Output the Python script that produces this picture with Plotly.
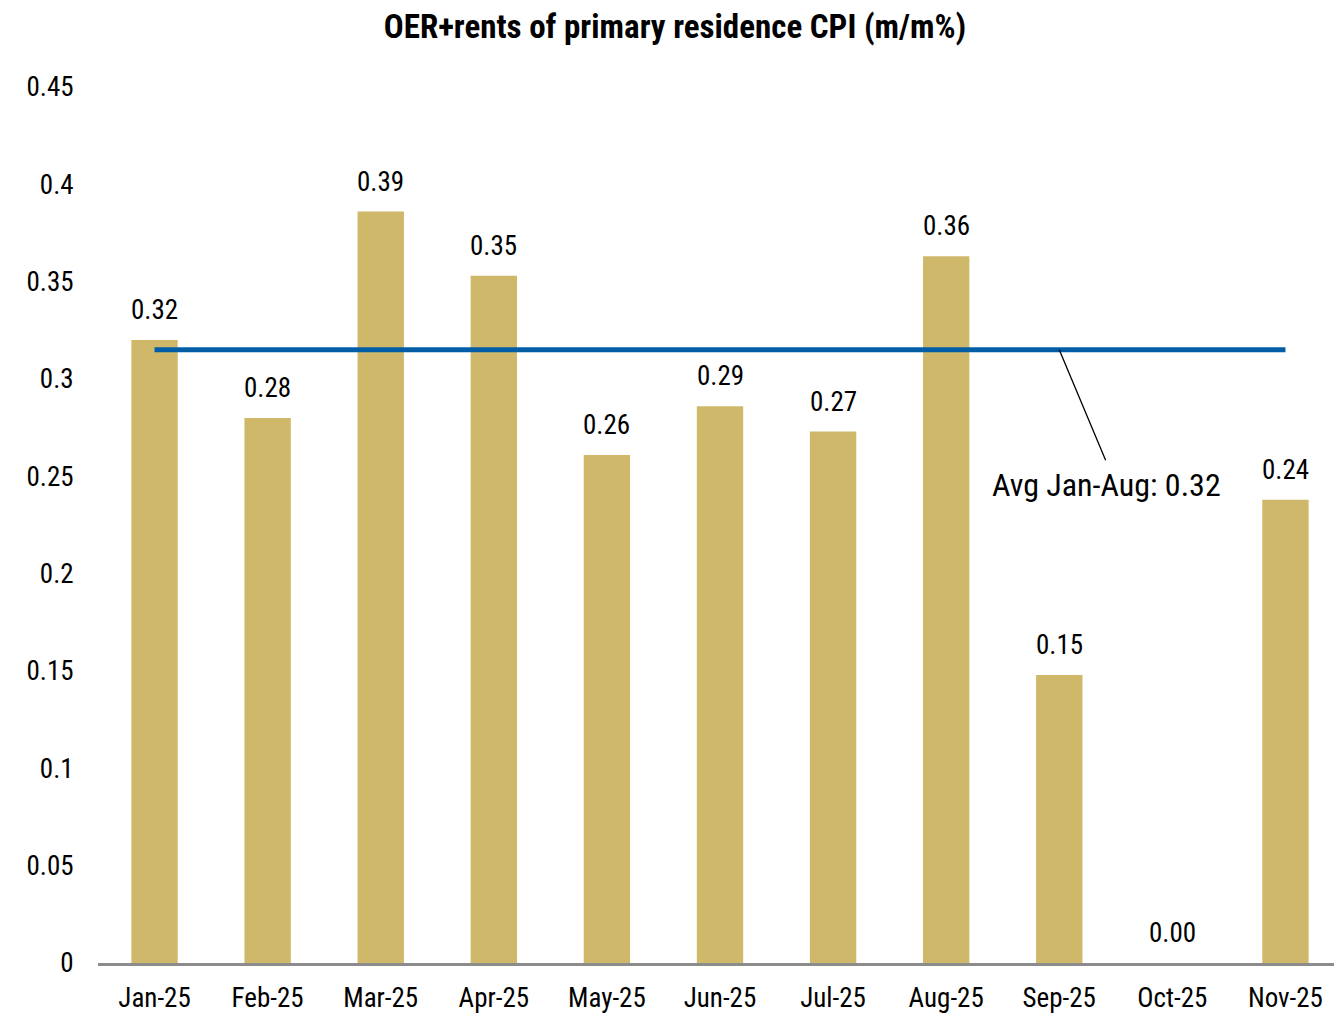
import plotly.graph_objects as go

months = ["Jan-25", "Feb-25", "Mar-25", "Apr-25", "May-25", "Jun-25",
          "Jul-25", "Aug-25", "Sep-25", "Oct-25", "Nov-25"]
values = [0.320, 0.280, 0.386, 0.353, 0.261, 0.286, 0.273, 0.363, 0.148, 0.0, 0.238]
avg_value = 0.315
avg_label = "Avg Jan-Aug: 0.32"
title_text = "OER+rents of primary residence CPI (m/m%)"
y_ticks = [0, 0.05, 0.1, 0.15, 0.2, 0.25, 0.3, 0.35, 0.4, 0.45]
y_tick_text = ["0", "0.05", "0.1", "0.15", "0.2", "0.25", "0.3", "0.35", "0.4", "0.45"]

FONT = "Roboto Condensed, Roboto, sans-serif"
BAR_COLOR = "#CFB86A"
LINE_COLOR = "#005DA6"

fig = go.Figure()
fig.add_trace(go.Bar(x=months, y=values, marker=dict(color=BAR_COLOR, line=dict(width=0)),
                     hoverinfo="x+y"))
fig.add_trace(go.Scatter(x=[months[0], months[-1]], y=[avg_value, avg_value], mode="lines",
                         line=dict(color=LINE_COLOR, width=5), hoverinfo="skip"))

annotations = []
for m, v in zip(months, values):
    annotations.append(dict(x=m, y=v, text=f"{v:.2f}", showarrow=False, yanchor="middle",
                            yshift=30, font=dict(family=FONT, size=27, color="black")))
# leader line for average
annotations.append(dict(x="Sep-25", y=avg_value, text="", showarrow=True, arrowhead=0,
                        arrowwidth=1.3, arrowcolor="black", ax=47, ay=112, standoff=0))
annotations.append(dict(x="Sep-25", y=avg_value, text=avg_label, showarrow=False,
                        xshift=47, yshift=-135, font=dict(family=FONT, size=32, color="black")))

fig.update_layout(
    width=1334, height=1024,
    margin=dict(l=90, r=0, t=79, b=69),
    paper_bgcolor="white", plot_bgcolor="white",
    showlegend=False,
    bargap=0.59,
    title=dict(text=f"<b>{title_text}</b>", x=0.5, xanchor="center", y=0.982, yanchor="middle",
               font=dict(family=FONT, size=33, color="black")),
    font=dict(family=FONT, size=27, color="black"),
    annotations=annotations,
)
fig.update_xaxes(showline=True, linecolor="#8C8C8C", linewidth=3, showgrid=False,
                 ticks="outside", ticklen=9, tickcolor="rgba(0,0,0,0)",
                 tickfont=dict(family=FONT, size=27, color="black"))
fig.update_yaxes(range=[0, 0.45], tickvals=y_ticks, ticktext=y_tick_text, showgrid=False,
                 zeroline=False, showline=False, ticks="outside", ticklen=18,
                 tickcolor="rgba(0,0,0,0)", tickfont=dict(family=FONT, size=27, color="black"))

fig.write_html("out.html")
